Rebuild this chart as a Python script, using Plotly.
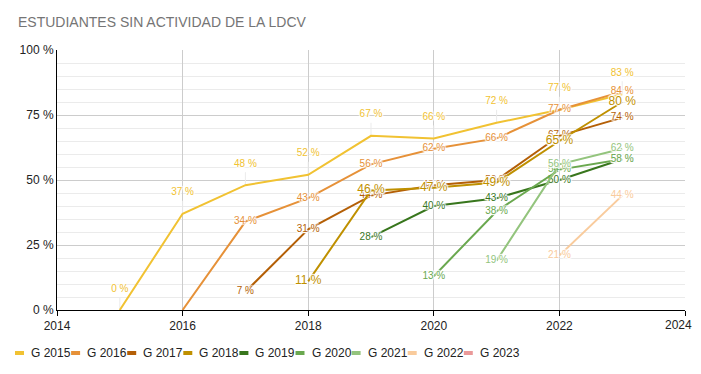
import plotly.graph_objects as go

# ---------------- data ----------------
years = [2015, 2016, 2017, 2018, 2019, 2020, 2021, 2022, 2023]
series_names = ["G 2015", "G 2016", "G 2017", "G 2018", "G 2019",
                "G 2020", "G 2021", "G 2022", "G 2023"]
g2015 = [0, 37, 48, 52, 67, 66, 72, 77, 83]
g2016 = [None, 0, 34, 43, 56, 62, 66, 77, 84]
g2017 = [None, None, 7, 31, 44, 48, 50, 67, 74]
g2018 = [None, None, None, 11, 46, 47, 49, 65, 80]
g2019 = [None, None, None, None, 28, 40, 43, 50, 58]
g2020 = [None, None, None, None, None, 13, 38, 54, 58]
g2021 = [None, None, None, None, None, None, 19, 56, 62]
g2022 = [None, None, None, None, None, None, None, 21, 44]
g2023 = [None, None, None, None, None, None, None, None, None]
series_values = [g2015, g2016, g2017, g2018, g2019, g2020, g2021, g2022, g2023]
# labels not shown in the reference (hidden by collisions)
hidden_labels = {"G 2016": [2016]}
x_ticks = [2014, 2016, 2018, 2020, 2022, 2024]
y_ticks = [0, 25, 50, 75, 100]
y_tick_labels = ["0 %", "25 %", "50 %", "75 %", "100 %"]

colors = ["#f1c232", "#e69138", "#b45f06", "#bf9000", "#38761d",
          "#6aa84f", "#93c47d", "#f9cb9c", "#ea9999"]

# the page has an 8px body margin -> keep the figure inside the 701x374 window
OFF = 8
W, H = 701 - 2 * OFF, 374 - 2 * OFF
ML, MT = 57 - OFF, 50 - OFF
MR = (OFF + W) - 685            # plot right edge at screen x=685
MB = (OFF + H) - 310            # plot bottom at screen y=310
PW, PH = W - ML - MR, H - MT - MB
FONT = "Liberation Sans, Arial, sans-serif"
HALO = ("1px 1px 1px white, -1px -1px 1px white, 1px -1px 1px white, "
        "-1px 1px 1px white, 0px 1px 1px white, 0px -1px 1px white")


def px_x(px):  # screen px -> paper x
    return (px - OFF - ML) / PW


def px_y(py):  # screen px -> paper y
    return (MT + PH - (py - OFF)) / PH


fig = go.Figure()
for i, (name, vals, col) in enumerate(zip(series_names, series_values, colors)):
    xs = [y for y, v in zip(years, vals) if v is not None]
    ys = [v for v in vals if v is not None]
    txt = ["" if x in hidden_labels.get(name, []) else f"{v} %" for x, v in zip(xs, ys)]
    if not xs:
        continue
    if i == 0:
        # annotations above the points with a thin stem
        fig.add_trace(go.Scatter(
            x=xs, y=ys, mode="lines+markers+text", name=name,
            line=dict(color=col, width=2),
            marker=dict(size=24, opacity=0),
            text=txt, textposition="top center",
            textfont=dict(family=FONT, size=10, color=col, shadow=HALO),
            error_y=dict(type="constant", value=5, symmetric=False, valueminus=0,
                         color="#ebebeb", thickness=1, width=0),
            showlegend=False, hoverinfo="skip"))
    else:
        fig.add_trace(go.Scatter(
            x=xs, y=ys, mode="lines+text", name=name,
            line=dict(color=col, width=2),
            text=txt, textposition="middle center",
            textfont=dict(family=FONT, size=12 if name == "G 2018" else 10,
                          color=col, shadow=HALO),
            showlegend=False, hoverinfo="skip"))

# ---------------- legend (drawn below the plot) ----------------
shapes, annotations = [], []
for i, (name, col) in enumerate(zip(series_names, colors)):
    sx = 15 + 56.1 * i
    shapes.append(dict(type="rect", xref="paper", yref="paper",
                       x0=px_x(sx), x1=px_x(sx + 9),
                       y0=px_y(351), y1=px_y(355),
                       fillcolor=col, line=dict(width=0)))
    annotations.append(dict(xref="paper", yref="paper",
                            x=px_x(sx + 14), y=px_y(353),
                            xanchor="left", yanchor="middle", showarrow=False,
                            text=name, font=dict(family=FONT, size=12, color="#222222")))

annotations.append(dict(xref="paper", yref="paper", x=px_x(16), y=px_y(22),
                        xanchor="left", yanchor="middle", showarrow=False,
                        text="ESTUDIANTES SIN ACTIVIDAD DE LA LDCV",
                        font=dict(family=FONT, size=14, color="#757575")))

# last x tick label would be cut at the page edge: draw it flush with the edge
x_tick_text = [str(t) for t in x_ticks]
last_label = x_tick_text[-1]
x_tick_text[-1] = ""
annotations.append(dict(xref="paper", yref="paper", x=px_x(OFF + W), y=px_y(325),
                        xanchor="right", yanchor="middle", showarrow=False,
                        borderpad=0, text=last_label,
                        font=dict(family=FONT, size=12, color="#222222")))

fig.update_layout(
    width=W, height=H,
    margin=dict(l=ML, r=MR, t=MT, b=MB),
    paper_bgcolor="white", plot_bgcolor="white",
    font=dict(family=FONT, size=12, color="#222222"),
    shapes=shapes, annotations=annotations,
    xaxis=dict(range=[2014, 2024], tickvals=x_ticks, ticktext=x_tick_text,
               showgrid=True, gridcolor="#cccccc", gridwidth=1,
               showline=True, linecolor="black", linewidth=1,
               ticks="outside", ticklen=5, tickcolor="black",
               zeroline=False, tickfont=dict(size=12, color="#222222")),
    yaxis=dict(range=[0, 100], tickvals=y_ticks, ticktext=y_tick_labels,
               showgrid=True, gridcolor="#cccccc", gridwidth=1,
               minor=dict(dtick=5, showgrid=True, gridcolor="#ebebeb", gridwidth=1),
               showline=True, linecolor="black", linewidth=1,
               zeroline=False, ticks="", tickfont=dict(size=12, color="#222222")),
)

fig.write_html("out.html")
